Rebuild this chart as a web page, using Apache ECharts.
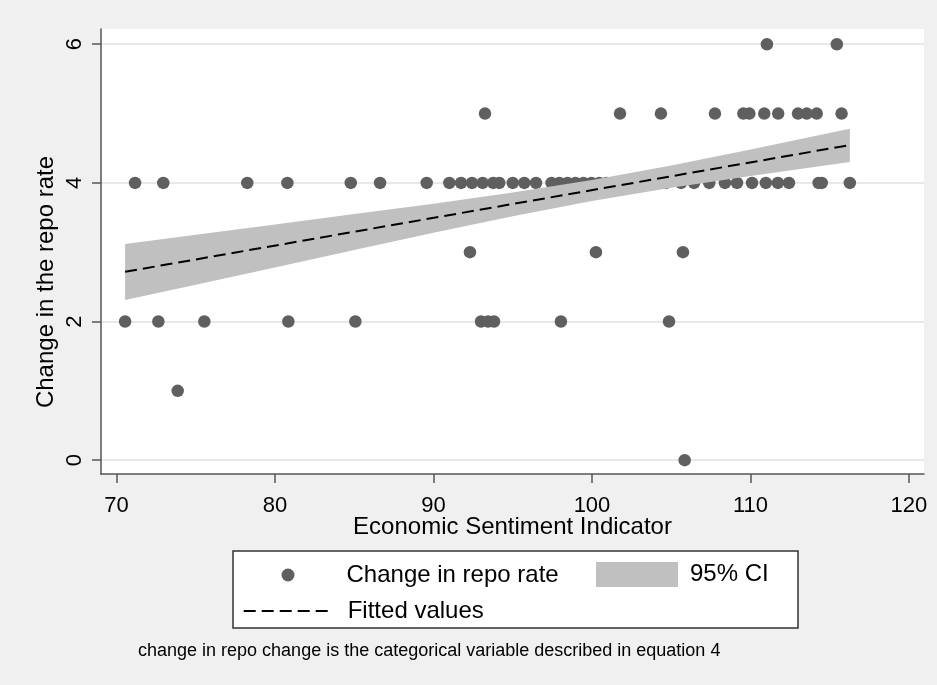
<!DOCTYPE html>
<html><head><meta charset="utf-8">
<script src="https://cdn.jsdelivr.net/npm/echarts@6/dist/echarts.min.js"></script>
<style>html,body{margin:0;padding:0;background:#f0f0f0}#c{width:937px;height:685px}</style>
</head><body><div id="c"></div>
<script>
// ---- tick labels ----
const xTicks = [70, 80, 90, 100, 110, 120];
const yTicks = [0, 2, 4, 6];

// ---- observations: Economic Sentiment Indicator values at each repo-rate change category ----
const esiAtRepo0 = [105.85];
const esiAtRepo1 = [73.86];
const esiAtRepo2 = [70.54, 72.64, 75.54, 80.84, 85.07, 93.0, 93.44, 93.82, 98.04, 104.86];
const esiAtRepo3 = [92.3, 100.25, 105.74];
const esiAtRepo4 = [71.17, 72.95, 78.25, 80.78, 84.78, 86.63, 89.57,
  91.0, 91.74, 92.43, 93.1, 93.77, 94.15, 95.0, 95.73, 96.47,
  97.45, 97.95, 98.46, 98.96, 99.46, 99.97, 100.47, 100.91,
  104.67, 105.62, 106.44, 107.4, 108.39, 109.15, 110.1, 110.97, 111.73, 112.43,
  114.3, 114.5, 116.27];
const esiAtRepo5 = [93.25, 101.77, 104.35, 107.76, 109.55, 109.93, 110.87, 111.75, 113.0, 113.55, 114.18, 115.75];
const esiAtRepo6 = [111.04, 115.45];

// ---- fitted line (end points) ----
const fitX = [70.54, 116.27];
const fitY = [2.717, 4.546];

// ---- 95% CI band ----
const ciX    = [70.54, 75, 80, 85, 90, 95, 100, 105, 110, 116.27];
const ciLow  = [2.31, 2.53, 2.78, 3.03, 3.28, 3.52, 3.74, 3.93, 4.10, 4.30];
const ciHigh = [3.12, 3.25, 3.40, 3.55, 3.70, 3.86, 4.04, 4.25, 4.48, 4.78];

const seriesNames = ['Change in repo rate', '95% CI', 'Fitted values'];
const xTitle = 'Economic Sentiment Indicator';
const yTitle = 'Change in the repo rate';
const note = 'change in repo change is the categorical variable described in equation 4';

const groups = [esiAtRepo0, esiAtRepo1, esiAtRepo2, esiAtRepo3, esiAtRepo4, esiAtRepo5, esiAtRepo6];
const scatterData = [];
groups.forEach((g, k) => g.forEach(x => scatterData.push([x, k])));
const fitData = fitX.map((x, i) => [x, fitY[i]]);
const ciData = ciX.map((x, i) => [x, ciLow[i], ciHigh[i]]);

const FONT = 'Liberation Sans, Arial, sans-serif';
const axisColor = '#555';
const TITLE_FS = 24, TICK_FS = 22, LEG_FS = 24;

const chart = echarts.init(document.getElementById('c'), null, {renderer: 'canvas'});
chart.setOption({
  animation: false,
  backgroundColor: '#f0f0f0',
  textStyle: {fontFamily: FONT, color: '#000'},
  title: {
    text: note, left: 133, top: 637,
    textStyle: {fontSize: 18, fontWeight: 'normal', color: '#000', fontFamily: FONT}
  },
  grid: {left: 101, right: 13, top: 29, bottom: 211, show: true, backgroundColor: '#fff', borderWidth: 0, containLabel: false, outerBoundsMode: 'none'},
  xAxis: {
    type: 'value', min: 69.02, max: 120.95,
    name: xTitle, nameLocation: 'middle', nameGap: 41, nameMoveOverlap: false,
    nameTextStyle: {fontSize: TITLE_FS, color: '#000', fontFamily: FONT},
    axisLine: {show: true, onZero: false, lineStyle: {color: axisColor, width: 1.5}},
    axisTick: {show: true, length: 9, customValues: xTicks, lineStyle: {color: axisColor, width: 1.5}},
    axisLabel: {customValues: xTicks, fontSize: TICK_FS, margin: 21, color: '#000', fontFamily: FONT},
    splitLine: {show: false}
  },
  yAxis: {
    type: 'value', min: -0.2, max: 6.22,
    axisLine: {show: true, onZero: false, lineStyle: {color: axisColor, width: 1.5}},
    axisTick: {show: true, length: 9, customValues: yTicks, lineStyle: {color: axisColor, width: 1.5}},
    axisLabel: {customValues: yTicks, rotate: 90, fontSize: TICK_FS, margin: 15, color: '#000', fontFamily: FONT},
    splitLine: {show: true, lineStyle: {color: '#e8e8e8', width: 2}}
  },
  graphic: [
    {type: 'rect', z: 0, shape: {x: 233, y: 551, width: 565, height: 77},
     style: {fill: '#fff', stroke: '#333', lineWidth: 1.5}},
    {type: 'text', x: 46, y: 282, rotation: Math.PI / 2, z: 5,
     style: {text: yTitle, fontSize: TITLE_FS, fontFamily: FONT, fill: '#000', align: 'center', verticalAlign: 'middle'}}
  ],
  legend: [
    {data: [{name: seriesNames[0], icon: 'circle'}], left: 281.5, top: 563, padding: 0,
     itemWidth: 13, itemHeight: 13, selectedMode: false,
     textStyle: {fontSize: LEG_FS, color: '#000', fontFamily: FONT, padding: [0, 0, 0, 47]}},
    {data: [{name: seriesNames[1], icon: 'rect'}], left: 596, top: 562, padding: 0,
     itemWidth: 82, itemHeight: 25, selectedMode: false,
     textStyle: {fontSize: LEG_FS, color: '#000', fontFamily: FONT, padding: [0, 0, 0, 7]}},
    {data: [{name: seriesNames[2]}], left: 242.7, top: 599, padding: 0,
     itemWidth: 89, itemHeight: 14, selectedMode: false,
     itemStyle: {color: 'rgba(0,0,0,0)', borderWidth: 0},
     lineStyle: {color: '#000', width: 2, type: [12, 6]},
     textStyle: {fontSize: LEG_FS, color: '#000', fontFamily: FONT, padding: [0, 0, 0, 10]}}
  ],
  series: [
    {name: seriesNames[0], type: 'scatter', z: 2, symbol: 'circle', symbolSize: 12.5,
     itemStyle: {color: '#5f5f5f', opacity: 1}, data: scatterData, silent: true},
    {name: seriesNames[1], type: 'custom', z: 3, itemStyle: {color: '#c0c0c0'}, silent: true,
     data: ciData,
     renderItem: function (params, api) {
       if (params.dataIndex !== 0) return null;
       const pts = [];
       for (let i = 0; i < ciData.length; i++) pts.push(api.coord([ciData[i][0], ciData[i][2]]));
       for (let i = ciData.length - 1; i >= 0; i--) pts.push(api.coord([ciData[i][0], ciData[i][1]]));
       return {type: 'polygon', shape: {points: pts}, style: {fill: '#c0c0c0', stroke: null}};
     }},
    {name: seriesNames[2], type: 'line', z: 4, symbol: 'none', showSymbol: false, silent: true,
     lineStyle: {color: '#000', width: 2, type: [12, 6]}, itemStyle: {color: '#000'},
     data: fitData}
  ]
});
</script></body></html>
